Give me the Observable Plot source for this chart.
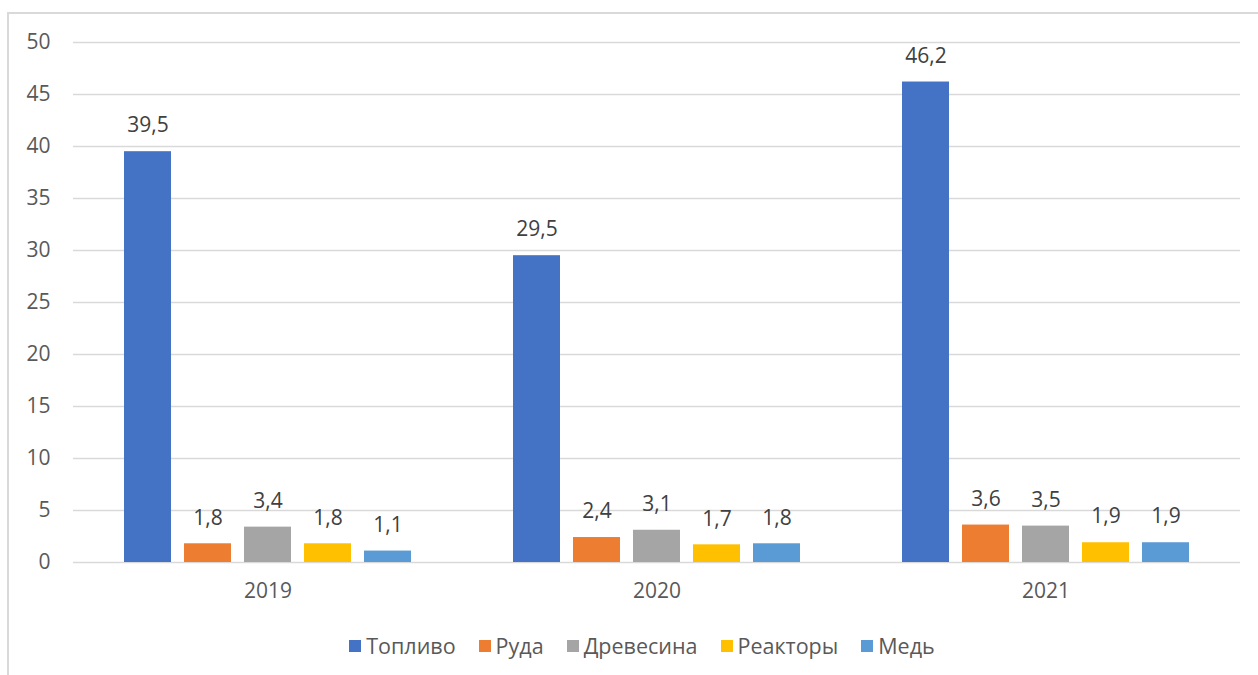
<!DOCTYPE html>
<html>
<head>
<meta charset="utf-8">
<script src="https://cdn.jsdelivr.net/npm/d3@7"></script>
<script src="https://cdn.jsdelivr.net/npm/@observablehq/plot@0.6"></script>
<style>
  html, body { margin: 0; padding: 0; background: #fff; }
  body { width: 1258px; height: 675px; position: relative; overflow: hidden; font-family: "Open Sans", sans-serif; }
  #frame { position: absolute; left: 7px; top: 12px; width: 1300px; height: 700px; border-left: 2px solid #d9d9d9; border-top: 2px solid #d9d9d9; }
  #chart { position: absolute; left: 0; top: 0; }
  #legend { position: absolute; left: 0; width: 1258px; top: 631px; display: flex; justify-content: center; gap: 23px; font-size: 21.5px; color: #595959; padding-left: 26px; box-sizing: border-box; }
  .item { display: flex; align-items: center; gap: 5px; }
  .sw { width: 12px; height: 12px; display: inline-block; }
</style>
</head>
<body>
<div id="frame"></div>
<div id="chart"></div>
<div id="legend"></div>
<script>
const years = ["2019", "2020", "2021"];
const series = ["Топливо", "Руда", "Древесина", "Реакторы", "Медь"];
const colors = ["#4472C4", "#ED7D31", "#A5A5A5", "#FFC000", "#5B9BD5"];
const values = {
  "Топливо":   [39.5, 29.5, 46.2],
  "Руда":      [1.8, 2.4, 3.6],
  "Древесина": [3.4, 3.1, 3.5],
  "Реакторы":  [1.8, 1.7, 1.9],
  "Медь":      [1.1, 1.8, 1.9]
};
const yTicks = [0, 5, 10, 15, 20, 25, 30, 35, 40, 45, 50];

const data = [];
years.forEach((yr, i) => series.forEach(s => data.push({year: yr, series: s, value: values[s][i]})));
const fmt = v => String(v).replace(".", ",");

const chart = Plot.plot({
  width: 1258,
  height: 610,
  marginLeft: 72,
  marginRight: 18,
  marginTop: 42,
  marginBottom: 48,
  style: {fontFamily: "Open Sans, sans-serif", fontSize: "21px", color: "#595959", background: "transparent"},
  fx: {domain: years, padding: 0, label: null, tickSize: 0, tickPadding: 21},
  x: {domain: series, paddingInner: 0.2167, paddingOuter: 0.82, axis: null},
  y: {domain: [0, 50], ticks: yTicks, label: null, tickSize: 0, tickPadding: 23, tickFormat: d => String(d)},
  color: {domain: series, range: colors},
  marks: [
    Plot.gridY(yTicks, {stroke: "#d9d9d9", strokeOpacity: 1, strokeWidth: 1.5}),
    Plot.barY(data, {fx: "year", x: "series", y: "value", fill: "series"}),
    Plot.text(data, {fx: "year", x: "series", y: "value", text: d => fmt(d.value), dy: -26, fill: "#404040", fontSize: 21})
  ]
});
document.getElementById("chart").appendChild(chart);

const legend = document.getElementById("legend");
series.forEach((s, i) => {
  const it = document.createElement("div");
  it.className = "item";
  const sw = document.createElement("span");
  sw.className = "sw";
  sw.style.background = colors[i];
  const t = document.createElement("span");
  t.textContent = s;
  it.appendChild(sw);
  it.appendChild(t);
  legend.appendChild(it);
});
</script>
</body>
</html>
